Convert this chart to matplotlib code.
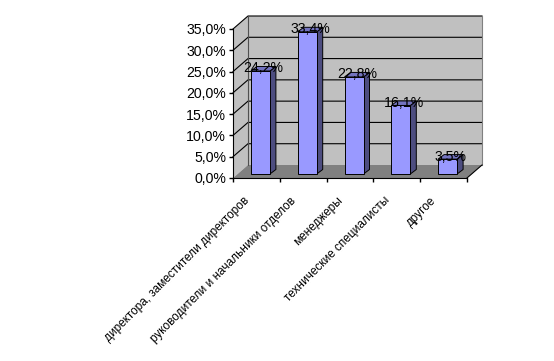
import matplotlib
matplotlib.use("Agg")
import matplotlib.pyplot as plt
from matplotlib.patches import Polygon

plt.rcParams['font.family'] = ['Liberation Sans', 'DejaVu Sans']

categories = ['директора, заместители директоров',
              'руководители и начальники отделов',
              'менеджеры',
              'технические специалисты',
              'другое']
values = [24.2, 33.4, 22.8, 16.1, 3.5]
value_labels = ['24,2%', '33,4%', '22,8%', '16,1%', '3,5%']
yticks = [0, 5, 10, 15, 20, 25, 30, 35]
ytick_labels = ['0,0%', '5,0%', '10,0%', '15,0%', '20,0%', '25,0%', '30,0%', '35,0%']

W, H = 554, 361
fig = plt.figure(figsize=(W / 100, H / 100), dpi=100, facecolor='white')
#front edge of the plot box, in pixels
ax = fig.add_axes([233 / W, (H - 178) / H, 234 / W, 149 / H])
ax.set_xlim(0, 5)
ax.set_ylim(0, 35)
ax.patch.set_visible(False)

#pixel to data sizes
px = 5 / 234
py = 35 / 149

#fake 3d box
dx = 15 * px
dy = 13 * py
ax.add_patch(Polygon([(dx, dy), (5 + dx, dy), (5 + dx, 35 + dy), (dx, 35 + dy)],
                     fc='#C0C0C0', ec='none', clip_on=False, zorder=1))
ax.add_patch(Polygon([(0, 0), (dx, dy), (dx, 35 + dy), (0, 35)],
                     fc='#C0C0C0', ec='none', clip_on=False, zorder=1))
ax.add_patch(Polygon([(0, 0), (5, 0), (5 + dx, dy), (dx, dy)],
                     fc='#808080', ec='none', clip_on=False, zorder=1))
for t in yticks[1:]:
    ax.plot([0, dx, 5 + dx], [t, t + dy, t + dy], color='black', lw=0.8,
            clip_on=False, zorder=2)
ax.plot([dx, dx], [dy, 35 + dy], color='#505050', lw=0.8, clip_on=False, zorder=2)
ax.plot([5 + dx, 5 + dx], [dy, 35 + dy], color='#808080', lw=0.8, clip_on=False, zorder=2)
ax.plot([5, 5 + dx], [0, dy], color='black', lw=0.8, clip_on=False, zorder=2)

#bars
bar_w = 19 * px
off_x = 4 * px
off_y = 4 * py
side_x = 6 * px
side_y = 4.5 * py
for i, v in enumerate(values):
    l = i + 0.5 + off_x - bar_w / 2
    r = l + bar_w
    b = off_y
    t = off_y + v
    ax.add_patch(Polygon([(r, b), (r + side_x, b + side_y), (r + side_x, t + side_y), (r, t)],
                         fc='#4D4D80', ec='black', lw=0.7, clip_on=False, zorder=3))
    ax.add_patch(Polygon([(l, t), (r, t), (r + side_x, t + side_y), (l + side_x, t + side_y)],
                         fc='#7373BF', ec='black', lw=0.7, clip_on=False, zorder=3))
    ax.add_patch(Polygon([(l, b), (r, b), (r, t), (l, t)],
                         fc='#9999FF', ec='black', lw=0.7, clip_on=False, zorder=4))
    ax.text(i + 0.5 + off_x + 3 * px, t + 2.5 * py, value_labels[i], ha='center', va='center',
            fontsize=10.2, color='black', zorder=5)

for s in ['top', 'right']:
    ax.spines[s].set_visible(False)
for s in ['left', 'bottom']:
    ax.spines[s].set_zorder(6)

ax.set_yticks(yticks)
ax.set_yticklabels(ytick_labels, fontsize=10.2)
ax.tick_params(axis='y', length=3, width=1, pad=2)
ax.set_xticks(range(6))
ax.set_xticklabels([])
ax.tick_params(axis='x', which='major', length=3, width=1)
#labels end left of the category centre
ax.set_xticks([i + 0.5 - 13 * px for i in range(5)], minor=True)
ax.set_xticklabels(categories, minor=True, rotation=45, ha='right', va='top',
                   rotation_mode='anchor', fontsize=8.5)
ax.tick_params(axis='x', which='minor', length=0, pad=12)

fig.savefig('out.png', dpi=100)
